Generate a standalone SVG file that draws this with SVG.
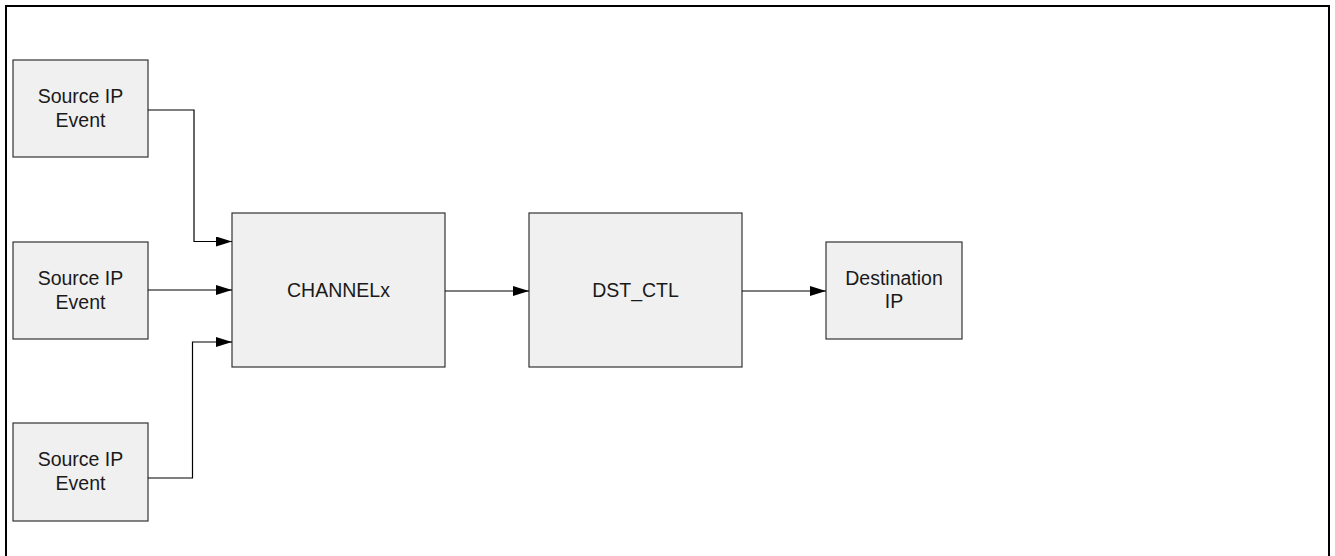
<svg xmlns="http://www.w3.org/2000/svg" width="1335" height="556" viewBox="0 0 1335 556">
<style>
.box{fill:#f0f0f0;stroke:#333;stroke-width:1.2}
.lbl{font-family:"Liberation Sans",Arial,sans-serif;font-size:19.5px;fill:#1a1a1a;text-anchor:middle}
.con{fill:none;stroke:#000;stroke-width:1.2}
</style>
<defs>
<marker id="arr" viewBox="0 0 16 10" refX="16" refY="5" markerWidth="16" markerHeight="10" markerUnits="userSpaceOnUse" orient="auto">
<path d="M0,0 L16,5 L0,10 Z" fill="#000"/>
</marker>
</defs>
<path d="M6,560 V6 H1329 V560" fill="none" stroke="#000" stroke-width="2"/>
<g id="src1"><rect class="box" x="13" y="60" width="135" height="97"/><text class="lbl" x="80.5" y="102.5">Source IP</text><text class="lbl" x="80.5" y="126.5">Event</text></g>
<g id="src2"><rect class="box" x="13" y="242" width="135" height="97"/><text class="lbl" x="80.5" y="284.5">Source IP</text><text class="lbl" x="80.5" y="308.5">Event</text></g>
<g id="src3"><rect class="box" x="13" y="423" width="135" height="98"/><text class="lbl" x="80.5" y="466">Source IP</text><text class="lbl" x="80.5" y="490">Event</text></g>
<g id="channelx"><rect class="box" x="232" y="213" width="213" height="154"/><text class="lbl" x="338.5" y="297">CHANNELx</text></g>
<g id="dstctl"><rect class="box" x="529" y="213" width="213" height="154"/><text class="lbl" x="635.5" y="297">DST_CTL</text></g>
<g id="dest"><rect class="box" x="826" y="242" width="136" height="97"/><text class="lbl" x="894" y="285">Destination</text><text class="lbl" x="894" y="308">IP</text></g>
<g id="connectors">
<path class="con" d="M148,110 H194 V241.5 H232" marker-end="url(#arr)"/>
<path class="con" d="M148,290 H232" marker-end="url(#arr)"/>
<path class="con" d="M148,478 H192.5 V342 H232" marker-end="url(#arr)"/>
<path class="con" d="M445,291 H529" marker-end="url(#arr)"/>
<path class="con" d="M742,291 H826" marker-end="url(#arr)"/>
</g>
</svg>
